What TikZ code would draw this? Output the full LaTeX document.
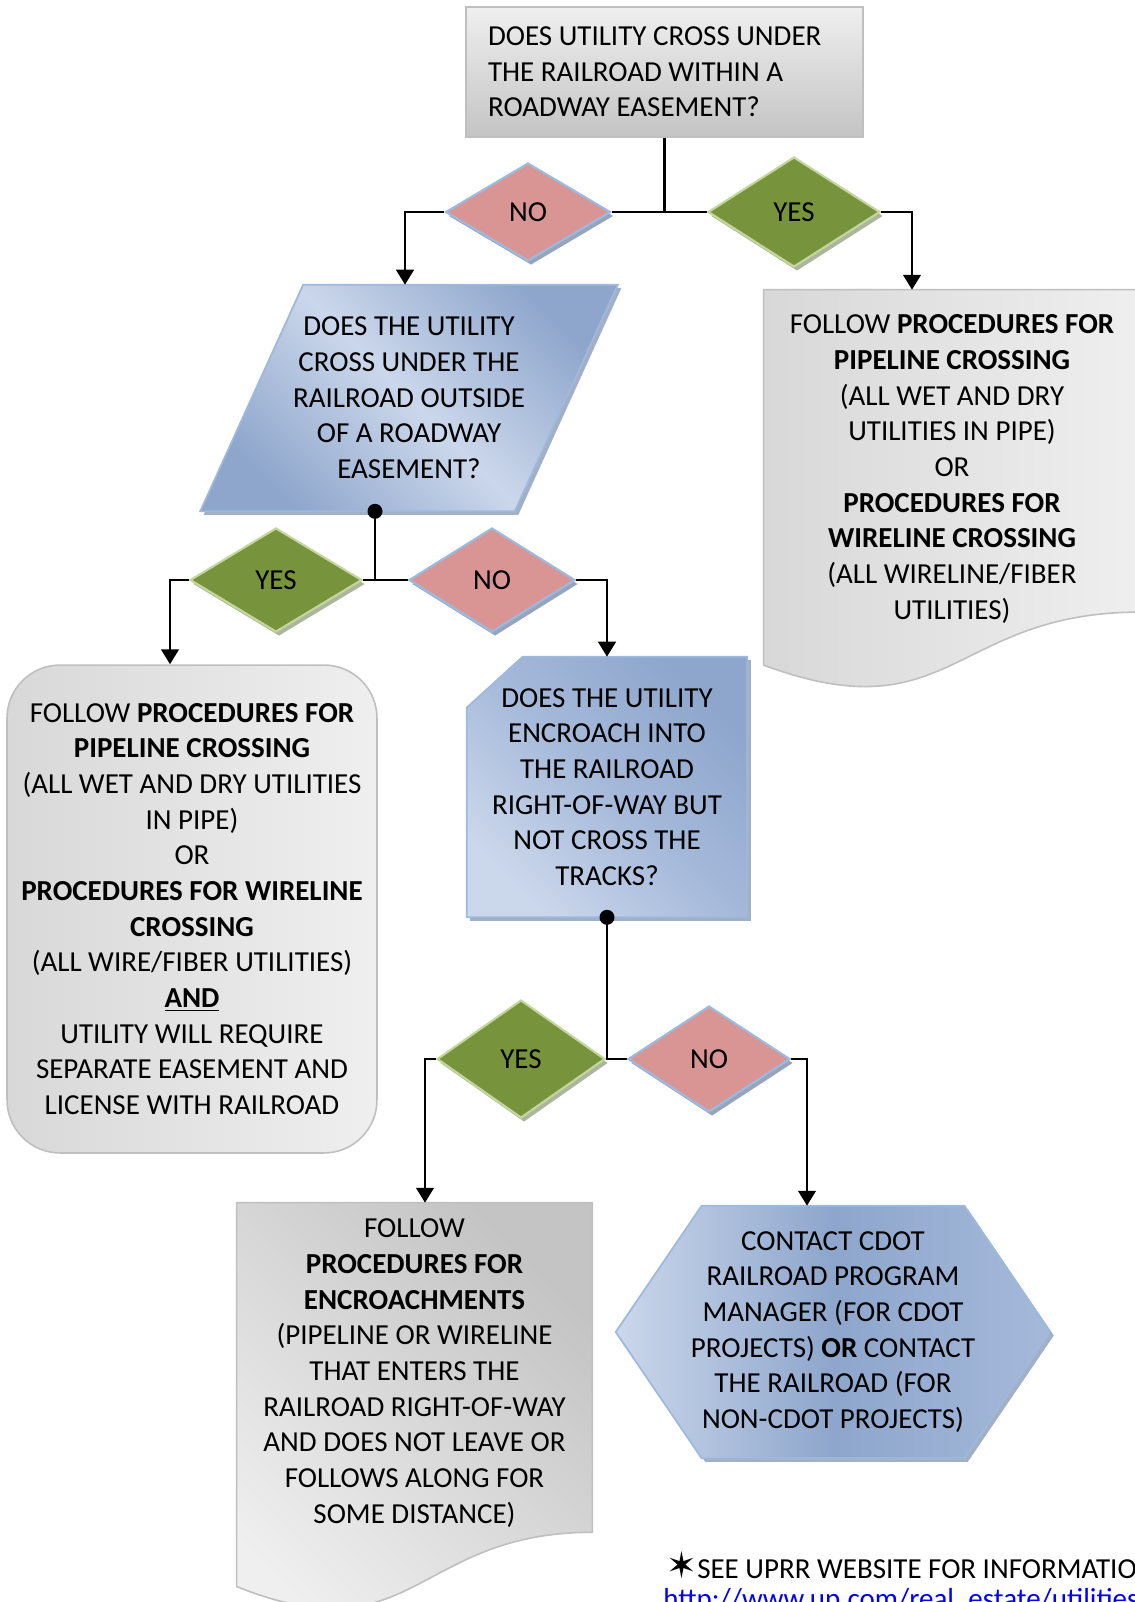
\documentclass[tikz,border=0pt]{standalone}
\usepackage{fontspec}
\setmainfont{Carlito}
\newfontfamily\symbolfont{DejaVu Sans}
\usetikzlibrary{arrows.meta,positioning,shapes.geometric,shadows,calc}
\definecolor{boxline}{HTML}{BFBFBF}
\definecolor{greylight}{HTML}{EFEFEF}
\definecolor{greymid}{HTML}{D8D8D8}
\definecolor{greydark}{HTML}{C4C4C4}
\definecolor{bluedark}{HTML}{8EA6CC}
\definecolor{bluemid}{HTML}{A5B9DA}
\definecolor{bluelight}{HTML}{CBD7EB}
\definecolor{blueline}{HTML}{9DB9DD}
\definecolor{blueshadow}{HTML}{8C9BB5}
\definecolor{nored}{HTML}{D99594}
\definecolor{yesgreen}{HTML}{77933C}
\definecolor{yesline}{HTML}{C3D69B}
\definecolor{yesshadow}{HTML}{A3AD93}
\definecolor{linkblue}{HTML}{0000FF}
\pgfdeclarelayer{background}
\pgfsetlayers{background,main}

% document box with a wavy bottom edge; #2 = full height below the top
\newcommand{\docoutline}[2]{%
  (#1.north west) -- (#1.north east) -- ($(#1.north east)+(0,{0.802*#2})$)
  .. controls ($(#1.north)+(0,{0.802*#2})$) and ($(#1.north)+(0,{1.1075*#2})$)
  .. ($(#1.north west)+(0,{0.934*#2})$) -- cycle}
% parallelogram round a node, top pushed right and bottom left by #2
\newcommand{\slantoutline}[2]{%
  ($(#1.north west)+(#2,0)$) -- ($(#1.north east)+(#2,0)$)
  -- ($(#1.south east)+(-#2,0)$) -- ($(#1.south west)+(-#2,0)$) -- cycle}
% box with its top left corner cut off (#2 across, #3 down)
\newcommand{\snipoutline}[3]{%
  ($(#1.north west)+(#2,0)$) -- (#1.north east) -- (#1.south east)
  -- (#1.south west) -- ($(#1.north west)+(0,#3)$) -- cycle}
% flat hexagon, points at west and east, corners set in by #2
\newcommand{\hexoutline}[2]{%
  ($(#1.north west)+(#2,0)$) -- ($(#1.north east)+(-#2,0)$) -- (#1.east)
  -- ($(#1.south east)+(-#2,0)$) -- ($(#1.south west)+(#2,0)$) -- (#1.west) -- cycle}

\begin{document}
\begin{tikzpicture}[x=0.02cm,y=-0.02cm,
 every node/.style={font=\fontsize{16.5}{20.3}\selectfont,align=center},
 link/.style={line width=1.5pt},
 flow/.style={line width=1.5pt,-{Triangle[width=10pt,length=8.5pt]}},
 question/.style={draw=boxline,line width=0.9pt,top color=greylight,bottom color=greydark},
 bluebox/.style={draw=blueline,line width=1pt,
   drop shadow={shadow xshift=0.07cm,shadow yshift=-0.07cm,fill=blueshadow,opacity=0.8}},
 nodiamond/.style 2 args={diamond,inner sep=0pt,minimum width=#1,minimum height=#2,
   fill=nored,draw=blueline,line width=1.2pt,
   drop shadow={shadow xshift=0.06cm,shadow yshift=-0.08cm,fill=blueshadow,opacity=0.9}},
 yesdiamond/.style 2 args={diamond,inner sep=0pt,minimum width=#1,minimum height=#2,
   fill=yesgreen,draw=yesline,line width=1.2pt,
   drop shadow={shadow xshift=0.06cm,shadow yshift=-0.08cm,fill=yesshadow,opacity=0.9}},
 docbox/.style={draw=boxline,line width=0.9pt}]
\useasboundingbox (0,0) rectangle (1135,1602);

\node[question,align=flush left,text width=7.06cm,inner xsep=0.44cm,minimum height=2.6cm] (q1) at (664.5,72)
 {DOES UTILITY CROSS UNDER\\THE RAILROAD WITHIN A\\ROADWAY EASEMENT?};
\node[nodiamond={3.3cm}{1.96cm}] (no1) at (528,212) {NO};
\node[yesdiamond={3.44cm}{2.2cm}] (yes1) at (794,212) {YES};

\node[minimum width=6.28cm,minimum height=4.52cm] (q2) at (409,398)
 {DOES THE UTILITY\\CROSS UNDER THE\\RAILROAD OUTSIDE\\OF A ROADWAY\\EASEMENT?};
\node[minimum width=7.52cm,minimum height=7.16cm] (out1) at (952,469)
 {FOLLOW \textbf{PROCEDURES FOR}\\\textbf{PIPELINE CROSSING}\\(ALL WET AND DRY\\UTILITIES IN PIPE)\\OR\\
  \textbf{PROCEDURES FOR}\\\textbf{WIRELINE CROSSING}\\(ALL WIRELINE/FIBER\\UTILITIES)};

\node[yesdiamond={3.44cm}{2.08cm}] (yes2) at (276,580) {YES};
\node[nodiamond={3.32cm}{2.08cm}] (no2) at (492,580) {NO};

\node[draw=boxline,line width=0.9pt,rounded corners=1.06cm,left color=greymid,right color=greylight,
 minimum width=7.4cm,minimum height=9.76cm] (out2) at (192,909)
 {FOLLOW \textbf{PROCEDURES FOR}\\\textbf{PIPELINE CROSSING}\\(ALL WET AND DRY UTILITIES\\IN PIPE)\\OR\\
  \textbf{PROCEDURES FOR WIRELINE}\\\textbf{CROSSING}\\(ALL WIRE/FIBER UTILITIES)\\\underline{\textbf{AND}}\\
  UTILITY WILL REQUIRE\\SEPARATE EASEMENT AND\\LICENSE WITH RAILROAD};
\node[minimum width=5.6cm,minimum height=5.2cm] (q3) at (607,787)
 {DOES THE UTILITY\\ENCROACH INTO\\THE RAILROAD\\RIGHT-OF-WAY BUT\\NOT CROSS THE\\TRACKS?};

\node[yesdiamond={3.36cm}{2.36cm}] (yes3) at (521,1059) {YES};
\node[nodiamond={3.24cm}{2.12cm}] (no3) at (709,1059) {NO};

\node[minimum width=7.1cm,minimum height=6.8cm] (out3) at (414.5,1373)
 {FOLLOW\\\textbf{PROCEDURES FOR}\\\textbf{ENCROACHMENTS}\\(PIPELINE OR WIRELINE\\THAT ENTERS THE\\
  RAILROAD RIGHT-OF-WAY\\AND DOES NOT LEAVE OR\\FOLLOWS ALONG FOR\\SOME DISTANCE)};
\node[minimum width=8.68cm,minimum height=5.04cm] (out4) at (833,1332)
 {CONTACT CDOT\\RAILROAD PROGRAM\\MANAGER (FOR CDOT\\PROJECTS) \textbf{OR} CONTACT\\
  THE RAILROAD (FOR\\NON-CDOT PROJECTS)};

\begin{pgfonlayer}{background}
\path[bluebox,left color=bluedark,right color=bluedark,middle color=bluelight,shading angle=135]
 \slantoutline{q2}{51.5};
\path[bluebox,left color=bluelight,right color=bluedark,middle color=bluemid,shading angle=135]
 \snipoutline{q3}{56}{51};
\path[bluebox,left color=bluelight,right color=bluemid,middle color=bluedark]
 \hexoutline{out4}{86};
\path[docbox,left color=greymid,right color=greylight] \docoutline{out1}{402};
\path[docbox,left color=greylight,right color=greydark,shading angle=135] \docoutline{out3}{411};
\end{pgfonlayer}

% connectors
\draw[link] (q1.south) -- (q1.south |- no1.east);
\draw[link] (no1.east) -- (yes1.west);
\draw[flow] (no1.west) -| (405,0 |- q2.north);
\draw[flow] (yes1.east) -| (912,0 |- out1.north);

\fill (375,0 |- q2.south) circle[radius=0.15cm];
\draw[link] (375,0 |- q2.south) -- (375,0 |- yes2.east);
\draw[link] (yes2.east) -- (no2.west);
\draw[flow] (yes2.west) -| (170,0 |- out2.north);
\draw[flow] (no2.east) -| (q3.north);

\fill (q3.south) circle[radius=0.15cm];
\draw[link] (q3.south) -- (q3.south |- yes3.east);
\draw[link] (yes3.east) -- (no3.west);
\draw[flow] (yes3.west) -| (425,0 |- out3.north);
\draw[flow] (no3.east) -| (807,0 |- out4.north);

\node[anchor=base west,inner sep=0pt] (note) at (666,1578)
 {{\symbolfont\fontsize{21}{21}\selectfont ✶}SEE UPRR WEBSITE FOR INFORMATION};
\node[anchor=base west,inner sep=0pt,text=linkblue] (url) at (663,1608)
 {http://www.up.com/real\_estate/utilities};
\end{tikzpicture}
\end{document}
